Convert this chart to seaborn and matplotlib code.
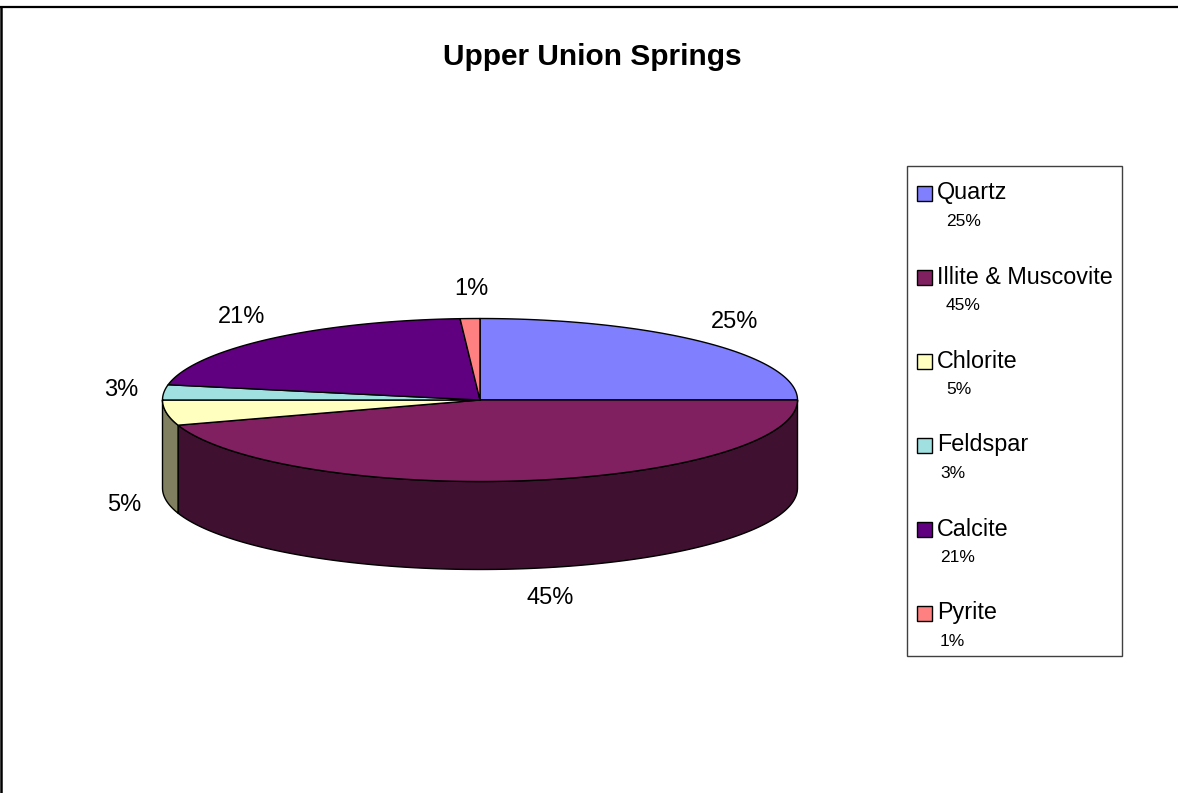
import numpy as np
import matplotlib
matplotlib.use("Agg")
import matplotlib.pyplot as plt
from matplotlib.patches import Polygon, Rectangle
import seaborn as sns

# Mineral composition
minerals = ["Quartz", "Illite & Muscovite", "Chlorite", "Feldspar", "Calcite", "Pyrite"]
percent = [25, 45, 5, 3, 21, 1]
top_colors = ["#8080FF", "#802060", "#FFFFC0", "#A0E0E0", "#600080", "#FF8080"]
title = "Upper Union Springs"

sns.set_theme(style="white")
plt.rcParams["font.family"] = ["Liberation Sans", "DejaVu Sans"]

W, H = 1178, 793
fig = plt.figure(figsize=(W / 100, H / 100), dpi=100)
ax = fig.add_axes([0, 0, 1, 1])
ax.set_xlim(0, W)
ax.set_ylim(H, 0)
ax.axis("off")

# 3-D pie geometry (pixel space)
cx, cy = 480, 400
rx, ry = 317.5, 81.5
depth = 88
edge_lw = 1.0


def arc(a0, a1, n=200, dy=0.0):
    t = np.radians(np.linspace(a0, a1, n))
    return np.column_stack([cx + rx * np.cos(t), cy - ry * np.sin(t) + dy])


def darker(c, f=0.5):
    r, g, b = matplotlib.colors.to_rgb(c)
    return (r * f, g * f, b * f)


# slice angle ranges, clockwise from 12 o'clock
spans = []
start = 90.0
for v in percent:
    end = start - 3.6 * v
    spans.append((end, start))
    start = end

# outer walls of the front half
for (a, b), col in zip(spans, top_colors):
    lo, hi = max(a, -180.0), min(b, 0.0)
    if lo < hi:
        top = arc(lo, hi)
        bot = arc(hi, lo, dy=depth)
        ax.add_patch(Polygon(np.vstack([top, bot]), closed=True,
                             facecolor=darker(col), edgecolor="black",
                             linewidth=edge_lw, joinstyle="round"))

# top faces
for (a, b), col in zip(spans, top_colors):
    pts = np.vstack([[cx, cy], arc(a, b)])
    ax.add_patch(Polygon(pts, closed=True, facecolor=col, edgecolor="black",
                         linewidth=edge_lw, joinstyle="round"))

# percentage labels outside each slice (small horizontal nudges to keep them clear)
lrx, lry = 360, 111
nudge_x = [0, 14, 0, 0, 0, 3]
for (a, b), v, dx in zip(spans, percent, nudge_x):
    m = np.radians((a + b) / 2)
    x = cx + lrx * np.cos(m) + dx
    y = cy - lry * np.sin(m) + (depth if np.sin(m) < 0 else 0)
    ax.text(x, y, f"{v}%", ha="center", va="center", fontsize=17, color="black")

# title
ax.text(592, 57, title, ha="center", va="center", fontsize=21.5,
        fontweight="bold", color="black")

# legend box
lx0, ly0, lx1, ly1 = 906.5, 165.5, 1121.5, 655.5
ax.add_patch(Rectangle((lx0, ly0), lx1 - lx0, ly1 - ly0, facecolor="white",
                       edgecolor="#404040", linewidth=1.0))
for i, (name, v, col) in enumerate(zip(minerals, percent, top_colors)):
    yn = 193 + 84 * i
    ax.add_patch(Rectangle((916.5, yn - 7.5), 15, 15, facecolor=col,
                           edgecolor="black", linewidth=1.0))
    ax.text(937, yn, name, ha="left", va="center", fontsize=16.8, color="black")
    ax.text(946 if i < 3 else 940, yn + 29, f"{v}%", ha="left", va="center",
            fontsize=12.5, color="black")

# chart frame
ax.plot([0, W], [6.7, 6.7], color="black", linewidth=1.6, solid_capstyle="butt")
ax.plot([1.3, 1.3], [6.7, H], color="black", linewidth=1.8, solid_capstyle="butt")

fig.savefig("out.png", dpi=100, facecolor="white")
